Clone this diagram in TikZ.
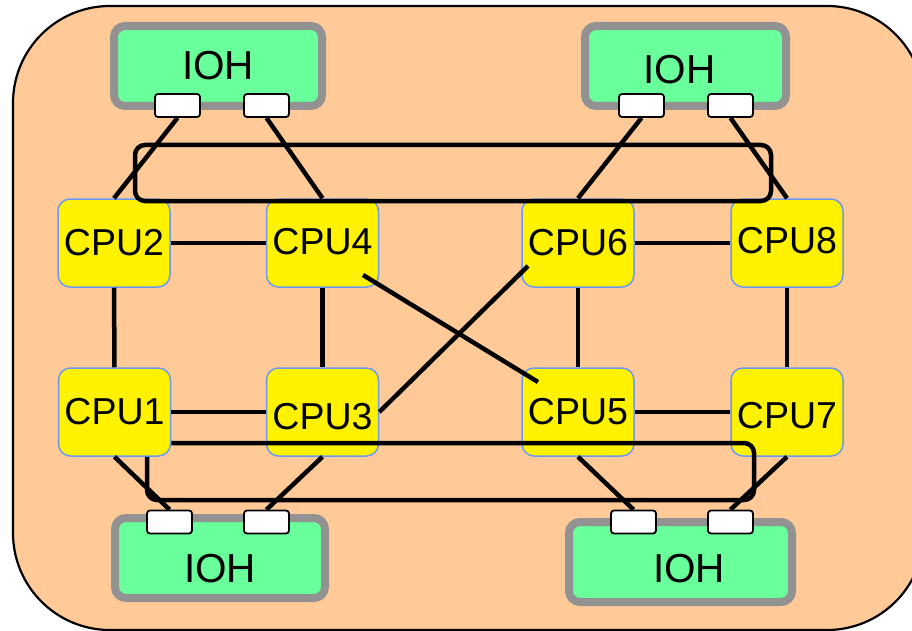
\documentclass[tikz,border=0pt]{standalone}
\usepackage{fontspec}
\setmainfont{Liberation Sans}
\usetikzlibrary{calc}
\definecolor{panel}{HTML}{FFCA98}
\definecolor{iohfill}{HTML}{69FF9B}
\definecolor{iohedge}{HTML}{929292}
\definecolor{cpuedge}{HTML}{6B98F2}
\begin{document}
\begin{tikzpicture}[x=1pt,y=-1pt,
  iohbox/.style={draw=iohedge, fill=iohfill, line width=8pt, rounded corners=11pt,
    minimum height=80pt, inner sep=0pt, font=\fontsize{40.5}{42}\selectfont, text depth=0pt},
  port/.style={draw=black, fill=white, line width=1.8pt, rounded corners=3pt,
    minimum width=45pt, minimum height=23pt, inner sep=0pt},
  cpubox/.style={draw=cpuedge, fill=yellow, line width=1.5pt, rounded corners=12pt,
    minimum width=112pt, minimum height=88pt, inner sep=0pt,
    font=\fontsize{37.5}{39}\selectfont, text depth=0pt},
  link/.style={line width=4.5pt},
  ring/.style={line width=4.5pt, rounded corners=10pt}]

\useasboundingbox (0,0) rectangle (912,631);
\clip (0,0) rectangle (912,631);

% board outline
\draw[fill=panel, line width=2.2pt, rounded corners=97pt] (13,6) rectangle (924,630);

% I/O hubs
\node[iohbox, minimum width=208pt, text height=27pt] (iohA) at (218,66) {IOH};
\node[iohbox, minimum width=201pt, text height=36pt] (iohB) at (685.5,66) {IOH\hspace*{12pt}};
\node[iohbox, minimum width=210pt, text height=49pt] (iohC) at (220,558) {IOH};
\node[iohbox, minimum width=223pt, text height=41pt] (iohD) at (680.5,562) {\hspace*{17pt}IOH};

% hub ports
\node[port] (a1) at (177.5,105.5) {};
\node[port] (a2) at (266.5,105.5) {};
\node[port] (b1) at (641.5,105.5) {};
\node[port] (b2) at (730.5,105.5) {};
\node[port] (c1) at (169.5,522) {};
\node[port] (c2) at (266.5,522) {};
\node[port] (d1) at (633.5,522) {};
\node[port] (d2) at (730.5,522) {};

% processors
\node[cpubox, text height=24.8pt] (cpu2) at (114,243) {CPU2};
\node[cpubox, text height=22.8pt] (cpu4) at (322.5,243) {CPU4};
\node[cpubox, text height=24.8pt] (cpu6) at (578,243) {CPU6};
\node[cpubox, text height=20.8pt] (cpu8) at (787,243) {CPU8};
\node[cpubox, text height=24.8pt] (cpu1) at (114.5,412) {CPU1};
\node[cpubox, text height=34.8pt] (cpu3) at (322.5,412) {CPU3};
\node[cpubox, text height=24.8pt] (cpu5) at (578,412) {CPU5};
\node[cpubox, text height=32.8pt] (cpu7) at (787,412) {CPU7};

% hub links
\draw[link] (a1.south) -- (cpu2.north);
\draw[link] (a2.south) -- (cpu4.north);
\draw[link] (b1.south) -- (cpu6.north);
\draw[link] (b2.south) -- (cpu8.north);
\draw[link] (cpu1.south) -- (c1.north);
\draw[link] (cpu3.south) -- (c2.north);
\draw[link] (cpu5.south) -- (d1.north);
\draw[link] (cpu7.south) -- (d2.north);

% processor links
\draw[link] (cpu2.east) -- (cpu4.west);
\draw[link] (cpu6.east) -- (cpu8.west);
\draw[link] (cpu1.east) -- (cpu3.west);
\draw[link] (cpu5.east) -- (cpu7.west);
\draw[link] (cpu2.south) -- (cpu1.north);
\draw[link] (cpu4.south) -- (cpu3.north);
\draw[link] (cpu6.south) -- (cpu5.north);
\draw[link] (cpu8.south) -- (cpu7.north);
\draw[link] ($(cpu4.center)+(40.5,32)$) -- ($(cpu5.center)+(-40,-30)$);
\draw[link] (cpu3.east) -- ($(cpu6.center)+(-50,23)$);

% shared rings
\draw[ring] (135,145) rectangle (771,201);
\coordinate (ringS) at ($(cpu1.east)+(0,31)$);
\coordinate (ringE) at ($(cpu1.south)+(32.5,0)$);
\draw[ring] (ringS) -- (754,443) -- (754,500) -- (ringE |- 0,500) -- (ringE);
\end{tikzpicture}
\end{document}
